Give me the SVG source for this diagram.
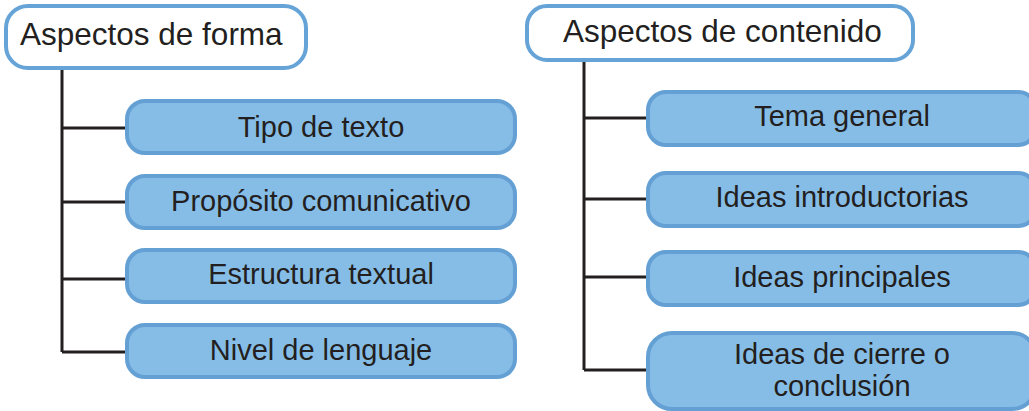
<svg xmlns="http://www.w3.org/2000/svg" width="1029" height="411" viewBox="0 0 1029 411">
<style>
.hdr{fill:#ffffff;stroke:#66a3d6;stroke-width:4}
.box{fill:#86bde7;stroke:#64a0d4;stroke-width:4}
.ht{font-family:"Liberation Sans",Arial,sans-serif;font-size:31.5px;fill:#231f20}
.t{font-family:"Liberation Sans",Arial,sans-serif;font-size:29px;fill:#231f20;text-anchor:middle}
.ln{stroke:#231f20;stroke-width:3;fill:none}
</style>
<rect width="1029" height="411" fill="#ffffff"/>
<g id="connectors">
<path class="ln" d="M62,68 V352 M62,128 H127 M62,202 H127 M62,279 H127 M62,352 H127"/>
<path class="ln" d="M584,60 V370 M584,118 H648 M584,199 H648 M584,277 H648 M584,370 H648"/>
</g>
<g id="aspectos-forma"><rect class="hdr" x="6" y="6" width="300" height="62" rx="22"/><text class="ht" x="20" y="45">Aspectos de forma</text></g>
<g id="tipo-texto"><rect class="box" x="127" y="101" width="388" height="52" rx="18"/><text class="t" x="321" y="137">Tipo de texto</text></g>
<g id="proposito"><rect class="box" x="127" y="176" width="388" height="52" rx="18"/><text class="t" x="321" y="211">Propósito comunicativo</text></g>
<g id="estructura"><rect class="box" x="127" y="250" width="388" height="52" rx="18"/><text class="t" x="321" y="284">Estructura textual</text></g>
<g id="nivel"><rect class="box" x="127" y="325" width="388" height="52" rx="18"/><text class="t" x="321" y="360">Nivel de lenguaje</text></g>
<g id="aspectos-contenido"><rect class="hdr" x="527" y="6" width="386" height="54" rx="20"/><text class="ht" x="563" y="42">Aspectos de contenido</text></g>
<g id="tema"><rect class="box" x="648" y="92" width="388" height="53" rx="18"/><text class="t" x="842" y="126">Tema general</text></g>
<g id="introductorias"><rect class="box" x="648" y="173" width="388" height="53" rx="18"/><text class="t" x="842" y="207">Ideas introductorias</text></g>
<g id="principales"><rect class="box" x="648" y="252" width="388" height="53" rx="18"/><text class="t" x="842" y="287">Ideas principales</text></g>
<g id="cierre"><rect class="box" x="648" y="333" width="388" height="76" rx="24"/><text class="t" x="842" y="364">Ideas de cierre o</text><text class="t" x="842" y="396">conclusión</text></g>
</svg>
